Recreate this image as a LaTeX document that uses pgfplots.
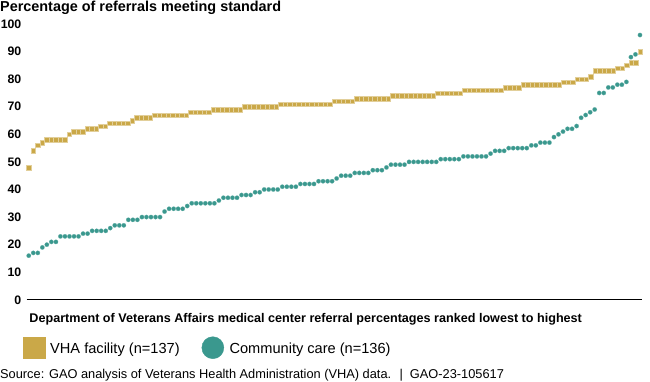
\documentclass[border=0pt]{standalone}
\usepackage{pgfplots}
\pgfplotsset{compat=1.18}
\usepackage{pgfplotstable}
\usepackage{fontspec}
\setmainfont{Liberation Sans}
\definecolor{vha}{RGB}{202,168,72}
\definecolor{cc}{RGB}{58,152,142}

\pgfplotstableread[row sep=\\]{
y\\ 48\\ 54\\ 56\\ 57\\ 58\\ 58\\ 58\\ 58\\ 58\\ 60\\ 61\\ 61\\ 61\\ 62\\ 62\\ 62\\ 63\\ 63\\
64\\ 64\\ 64\\ 64\\ 64\\ 65\\ 66\\ 66\\ 66\\ 66\\
67\\ 67\\ 67\\ 67\\ 67\\ 67\\ 67\\ 67\\
68\\ 68\\ 68\\ 68\\ 68\\
69\\ 69\\ 69\\ 69\\ 69\\ 69\\ 69\\
70\\ 70\\ 70\\ 70\\ 70\\ 70\\ 70\\ 70\\
71\\ 71\\ 71\\ 71\\ 71\\ 71\\ 71\\ 71\\ 71\\ 71\\ 71\\ 71\\
72\\ 72\\ 72\\ 72\\ 72\\
73\\ 73\\ 73\\ 73\\ 73\\ 73\\ 73\\ 73\\
74\\ 74\\ 74\\ 74\\ 74\\ 74\\ 74\\ 74\\ 74\\ 74\\
75\\ 75\\ 75\\ 75\\ 75\\ 75\\
76\\ 76\\ 76\\ 76\\ 76\\ 76\\ 76\\ 76\\ 76\\
77\\ 77\\ 77\\ 77\\
78\\ 78\\ 78\\ 78\\ 78\\ 78\\ 78\\ 78\\ 78\\
79\\ 79\\ 79\\ 80\\ 80\\ 80\\ 81\\
83\\ 83\\ 83\\ 83\\ 83\\ 84\\ 84\\ 85\\ 86\\ 86\\ 90\\
}\vhatable

\pgfplotstableread[row sep=\\]{
y\\ 16\\ 17\\ 17\\ 19\\ 20\\ 21\\ 21\\ 23\\ 23\\ 23\\ 23\\ 23\\ 24\\ 24\\
25\\ 25\\ 25\\ 25\\ 26\\ 27\\ 27\\ 27\\ 29\\ 29\\ 29\\ 30\\ 30\\ 30\\ 30\\ 30\\
32\\ 33\\ 33\\ 33\\ 33\\ 34\\ 35\\ 35\\ 35\\ 35\\ 35\\ 35\\ 36\\
37\\ 37\\ 37\\ 37\\ 38\\ 38\\ 38\\ 39\\ 39\\ 40\\ 40\\ 40\\ 40\\
41\\ 41\\ 41\\ 41\\ 42\\ 42\\ 42\\ 42\\ 43\\ 43\\ 43\\ 43\\ 44\\
45\\ 45\\ 45\\ 46\\ 46\\ 46\\ 46\\ 47\\ 47\\ 47\\ 48\\ 49\\ 49\\ 49\\ 49\\
50\\ 50\\ 50\\ 50\\ 50\\ 50\\ 50\\ 51\\ 51\\ 51\\ 51\\ 51\\
52\\ 52\\ 52\\ 52\\ 52\\ 52\\ 53\\ 54\\ 54\\ 54\\ 55\\ 55\\ 55\\ 55\\ 55\\
56\\ 56\\ 57\\ 57\\ 57\\ 59\\ 60\\ 61\\ 62\\ 62\\ 63\\ 66\\ 67\\ 68\\ 69\\
75\\ 75\\ 77\\ 77\\ 78\\ 78\\ 79\\ 88\\ 89\\ 96\\
}\cctable

\begin{document}
\begin{tikzpicture}
\path[use as bounding box] (0pt,0pt) rectangle (650pt,-381pt);
\begin{axis}[
  at={(26.5pt,-299.8pt)}, anchor=south west,
  scale only axis, width=615.5pt, height=275.8pt,
  xmin=-0.5, xmax=136.45, ymin=0, ymax=100,
  clip=false,
  axis x line*=bottom, axis y line*=left,
  x axis line style={black, line width=1pt},
  y axis line style={draw=none},
  xtick=\empty,
  ytick={0,10,...,100},
  tick style={draw=none},
  /pgf/number format/assume math mode=true,
  yticklabel style={font=\fontsize{12.3}{13}\selectfont\bfseries, anchor=east, inner sep=0pt, xshift=-5pt},
  xlabel={Department of Veterans Affairs medical center referral percentages ranked lowest to highest},
  xlabel style={at={(axis description cs:0.0045,0)}, anchor=base west, inner sep=0pt, yshift=-22.5pt, font=\fontsize{12.6}{13}\selectfont\bfseries},
  legend style={at={(axis description cs:-0.0055,-0.1737)}, anchor=west, draw=none, fill=none, inner sep=0pt, legend columns=2,
    font=\fontsize{14.6}{15}\selectfont, /tikz/every even column/.append style={column sep=22pt},
    nodes={inner sep=0pt, text depth=0pt}, legend cell align=left},
]
\addplot[only marks, mark=square*, mark size=2.25pt, mark options={fill=vha, draw=vha!55!white, line width=0.3pt},
  legend image code/.code={\fill[vha] (0pt,-10.8pt) rectangle (21.7pt,10.8pt); \path (26.5pt,0pt);}]
  table[x expr=\coordindex, y=y] {\vhatable};
\addlegendentry{VHA facility (n=137)}
\addplot[only marks, mark=*, mark size=2.2pt, mark options={fill=cc, draw=cc!70!white, line width=0.2pt},
  legend image code/.code={\fill[cc] (11pt,0pt) circle[radius=11pt]; \path (27.5pt,0pt);}]
  table[x expr=\coordindex*136/135, y=y] {\cctable};
\addlegendentry{Community care (n=136)}
\end{axis}
\node[anchor=base west, inner sep=0pt, font=\fontsize{14.4}{15}\selectfont\bfseries] at (0pt,-11pt)
  {Percentage of referrals meeting standard};
\node[anchor=base west, inner sep=0pt, font=\fontsize{12.8}{13}\selectfont] at (0pt,-378.5pt)
  {Source: GAO analysis of Veterans Health Administration (VHA) data. \ | \ GAO-23-105617};
\end{tikzpicture}
\end{document}
